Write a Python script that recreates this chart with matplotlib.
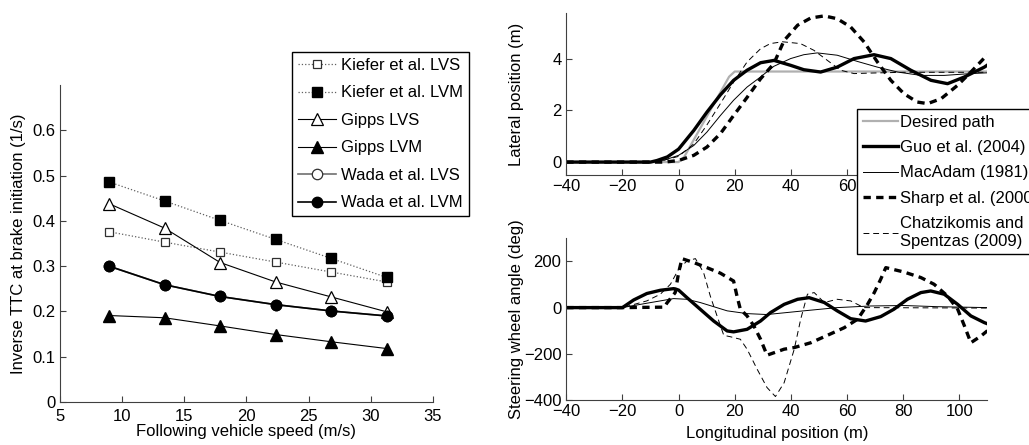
import matplotlib.pyplot as plt

plt.rcParams['font.family'] = ['Liberation Sans', 'DejaVu Sans']
plt.rcParams['font.size'] = 12

# --- left panel: inverse TTC at brake initiation ---
speed = [8.94, 13.41, 17.88, 22.35, 26.82, 31.29]
kiefer_lvs = [0.376, 0.353, 0.331, 0.309, 0.287, 0.265]
kiefer_lvm = [0.486, 0.444, 0.401, 0.359, 0.317, 0.275]
gipps_lvs = [0.438, 0.384, 0.308, 0.265, 0.232, 0.199]
gipps_lvm = [0.191, 0.186, 0.168, 0.149, 0.133, 0.118]
wada_lvs = [0.300, 0.259, 0.233, 0.215, 0.201, 0.190]
wada_lvm = [0.300, 0.259, 0.233, 0.215, 0.201, 0.190]

# --- right panels: lane change paths ---
desired_x = [-40, 0, 2, 18, 20, 110]
desired_y = [0, 0, 0.2, 3.3, 3.5, 3.5]

guo_x = [-40, -10, -7.7, -4, 0, 5.4, 10.1, 14.9, 19.6, 24.4, 29.2, 34, 39.9, 44.6, 50.6,
         56.5, 62.5, 69.6, 75.6, 82.7, 89.9, 95.8, 101.8, 108.9, 110]
guo_y = [0, 0, 0.06, 0.2, 0.5, 1.22, 1.93, 2.6, 3.16, 3.55, 3.84, 3.93, 3.74, 3.57, 3.48,
         3.67, 4.0, 4.15, 4.0, 3.55, 3.16, 3.03, 3.29, 3.67, 3.75]

macadam_x = [-40, -10, -5, 0, 5.4, 10.1, 14.9, 19.6, 24.4, 29.2, 33.9, 39.9, 44.6, 49.4,
             56.5, 63.7, 70.8, 78, 86.3, 94.6, 104, 110]
macadam_y = [0, 0, 0.08, 0.26, 0.64, 1.16, 1.8, 2.39, 2.9, 3.29, 3.7, 4.0, 4.15, 4.22,
             4.13, 3.89, 3.67, 3.48, 3.35, 3.35, 3.42, 3.45]

sharp_x = [-40, -5, 0, 5.4, 10.1, 14.9, 19.6, 24.4, 29.2, 33.9, 37.6, 42.4, 47.1, 51.9,
           56.5, 61.3, 66.1, 70.8, 75.6, 80.3, 85, 88.7, 93.5, 99.4, 104.1, 110]
sharp_y = [0, 0, 0.06, 0.26, 0.58, 1.1, 1.8, 2.5, 3.22, 3.8, 4.7, 5.29, 5.57, 5.65,
           5.54, 5.22, 4.64, 3.87, 3.16, 2.64, 2.32, 2.26, 2.45, 2.97, 3.48, 4.15]

chatz_x = [-40, -10, -5, 0, 5.4, 10, 14.9, 19.6, 24.4, 29.2, 32.7, 37, 43.4, 48.2, 53,
           57.7, 62.5, 68.4, 80, 110]
chatz_y = [0, 0, 0.08, 0.22, 0.7, 1.42, 2.26, 3.09, 3.87, 4.38, 4.58, 4.65, 4.58, 4.32,
           3.93, 3.55, 3.42, 3.44, 3.47, 3.47]

# --- steering wheel angle ---
guo_sx = [-40, -20, -16, -11.3, -6.5, -1.8, 0, 3, 7.7, 12.5, 17.3, 19.6, 24.4, 29.2,
          32.7, 37.6, 42.4, 46.5, 51.9, 56.5, 61.3, 66.6, 72, 76.7, 81.5, 86.3, 89.8,
          94.6, 99.4, 104.1, 108.9, 110]
guo_sa = [0, 0, 33, 61, 75, 82, 76, 43, -7, -58, -101, -105, -94, -58, -22, 14, 36, 43,
          22, -14, -48, -58, -39, -7, 36, 65, 72, 58, 14, -36, -65, -70]

macadam_sx = [-40, -20, -11.3, -6.5, -1.8, 3, 7.7, 12.5, 17.3, 24.4, 31.5, 44.6, 56.5,
              68.4, 80.3, 92.2, 110]
macadam_sa = [0, 0, 19, 29, 39, 36, 22, 4, -14, -26, -30, -14, 0, 7, 9, 4, 0]

sharp_sx = [-40, -20, -5, -4.2, -1.2, 0, 1.2, 5.4, 10.1, 14.9, 19.6, 20.8, 22, 24.4,
            26.8, 29.2, 31.5, 37.6, 41.2, 47.1, 53, 59, 63.8, 67.3, 69.7, 72, 73.8,
            80.3, 86.3, 91, 95.8, 99.4, 101.8, 104.1, 107.7, 110]
sharp_sa = [0, 0, 2, 19, 65, 150, 212, 195, 173, 149, 115, 50, -7, -36, -79, -137, -206,
            -180, -173, -152, -120, -87, -50, 14, 65, 123, 173, 154, 130, 101, 50, -7,
            -79, -152, -123, -100]

chatz_sx = [-40, -20, -11.3, -6.5, -2.9, 0, 3, 6, 8.9, 11.3, 13.7, 16.1, 18.4, 22,
            24.4, 28, 31.5, 34.5, 37.6, 41.2, 43.5, 45.9, 48.3, 51.9, 56.5, 61.3, 66, 110]
chatz_sa = [0, 0, 29, 58, 101, 166, 202, 212, 152, 50, -36, -120, -126, -137, -180,
            -267, -346, -385, -325, -180, -50, 58, 65, 22, 36, 29, 0, -2]

fig = plt.figure(figsize=(10.29, 4.45), dpi=100)


def matlab_axes(ax):
    # box off, inward ticks like the MATLAB original
    for side in ['top', 'right']:
        ax.spines[side].set_visible(False)
    for side in ['left', 'bottom']:
        ax.spines[side].set_color('#404040')
        ax.spines[side].set_linewidth(0.8)
    ax.tick_params(direction='in', length=4, width=0.8, color='#404040', labelsize=12)
    ax.tick_params(axis='x', pad=5)


# left panel
ax1 = fig.add_axes([0.0583, 0.0966, 0.3625, 0.7124])
ax1.plot(speed, kiefer_lvs, ':', color='#606060', lw=0.9, marker='s', ms=6,
         mfc='white', mec='#303030', mew=0.9, label='Kiefer et al. LVS')
ax1.plot(speed, kiefer_lvm, ':', color='#606060', lw=0.9, marker='s', ms=6.5,
         mfc='black', mec='black', label='Kiefer et al. LVM')
ax1.plot(speed, gipps_lvs, '-', color='black', lw=0.8, marker='^', ms=8,
         mfc='white', mec='black', mew=0.9, label='Gipps LVS')
ax1.plot(speed, gipps_lvm, '-', color='black', lw=0.8, marker='^', ms=8,
         mfc='black', mec='black', label='Gipps LVM')
ax1.plot(speed, wada_lvs, '-', color='#707070', lw=1.2, marker='o', ms=7.5,
         mfc='white', mec='#303030', mew=0.9, label='Wada et al. LVS')
ax1.plot(speed, wada_lvm, '-', color='black', lw=1.2, marker='o', ms=7.5,
         mfc='black', mec='black', label='Wada et al. LVM')
ax1.set_xlim(5, 35)
ax1.set_ylim(0, 0.7)
ax1.set_xticks([5, 10, 15, 20, 25, 30, 35])
ax1.set_yticks([0, 0.1, 0.2, 0.3, 0.4, 0.5, 0.6])
ax1.set_yticklabels(['0', '0.1', '0.2', '0.3', '0.4', '0.5', '0.6'])
ax1.set_xlabel('Following vehicle speed (m/s)', labelpad=0)
ax1.set_ylabel('Inverse TTC at brake initiation (1/s)', labelpad=4)
matlab_axes(ax1)
h1, l1 = ax1.get_legend_handles_labels()
fig.legend(h1, l1, loc='upper left', bbox_to_anchor=(292 / 1029, 1 - 52 / 445),
           fancybox=False, edgecolor='black', framealpha=1, fontsize=12,
           handlelength=2.3, handletextpad=0.3, labelspacing=0.75,
           borderpad=0.35, borderaxespad=0)

# right top panel
ax2 = fig.add_axes([0.5503, 0.6067, 0.4093, 0.3634])
ax2.plot(desired_x, desired_y, color='#b0b0b0', lw=1.6, label='Desired path')
ax2.plot(guo_x, guo_y, color='black', lw=2.4, label='Guo et al. (2004)')
ax2.plot(macadam_x, macadam_y, color='black', lw=0.7, label='MacAdam (1981)')
ax2.plot(sharp_x, sharp_y, color='black', lw=2.4, ls=(0, (2.2, 1.6)),
         label='Sharp et al. (2000)')
ax2.plot(chatz_x, chatz_y, color='black', lw=0.7, ls=(0, (6, 4)),
         label='Chatzikomis and\nSpentzas (2009)')
ax2.set_xlim(-40, 110)
ax2.set_ylim(-0.5, 5.75)
ax2.set_xticks([-40, -20, 0, 20, 40, 60, 80, 100])
ax2.set_yticks([0, 2, 4])
ax2.set_ylabel('Lateral position (m)', labelpad=20)
matlab_axes(ax2)
ax2.tick_params(axis='x', pad=3)

# right bottom panel
ax3 = fig.add_axes([0.5503, 0.1011, 0.4093, 0.3634])
ax3.plot(guo_sx, guo_sa, color='black', lw=2.4)
ax3.plot(macadam_sx, macadam_sa, color='black', lw=0.7)
ax3.plot(sharp_sx, sharp_sa, color='black', lw=2.4, ls=(0, (2.2, 1.6)))
ax3.plot(chatz_sx, chatz_sa, color='black', lw=0.7, ls=(0, (6, 4)))
ax3.set_xlim(-40, 110)
ax3.set_ylim(-400, 300)
ax3.set_xticks([-40, -20, 0, 20, 40, 60, 80, 100])
ax3.set_yticks([-400, -200, 0, 200])
ax3.set_xlabel('Longitudinal position (m)', labelpad=5)
ax3.set_ylabel('Steering wheel angle (deg)', labelpad=0)
matlab_axes(ax3)
ax3.tick_params(axis='x', pad=3)

h2, l2 = ax2.get_legend_handles_labels()
fig.legend(h2, l2, loc='upper left', bbox_to_anchor=(857 / 1029, 1 - 109 / 445),
           fancybox=False, edgecolor='black', framealpha=1, fontsize=12,
           handlelength=2.1, handletextpad=0.15, labelspacing=0.62,
           borderpad=0.35, borderaxespad=0)

plt.savefig('out.png', dpi=100)
